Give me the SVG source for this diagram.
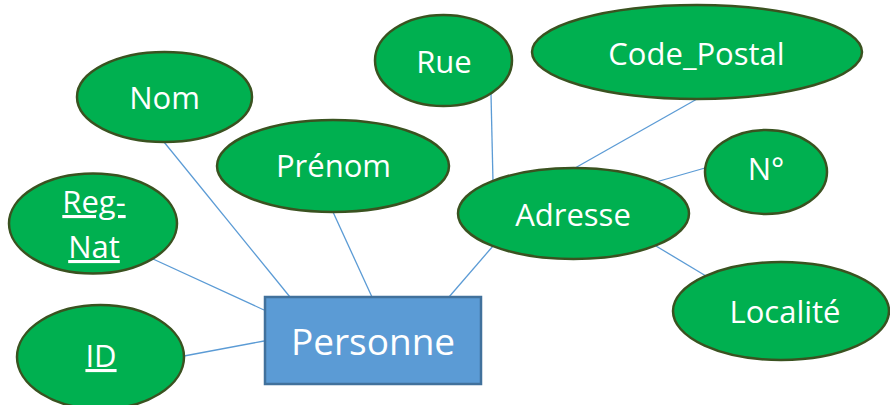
<svg xmlns="http://www.w3.org/2000/svg" width="890" height="405" viewBox="0 0 890 405">
<style>
.attr ellipse{fill:#00B050;stroke:#3A5220;stroke-width:2.5}
text{font-family:"Open Sans","DejaVu Sans",sans-serif;fill:#FFFFFF;text-anchor:middle}
.lbl{font-size:31px}
.key{text-decoration:underline}
.conn line{stroke:#5B9BD5;stroke-width:1.3}
</style>
<rect width="890" height="405" fill="#FFFFFF"/>
<g id="connectors" class="conn">
<line x1="164" y1="142" x2="290" y2="297"/>
<line x1="333" y1="212" x2="372" y2="297"/>
<line x1="153" y1="259" x2="264" y2="310"/>
<line x1="184" y1="356" x2="264" y2="341"/>
<line x1="493" y1="246" x2="449" y2="297"/>
<line x1="491" y1="94" x2="493" y2="182"/>
<line x1="697" y1="99" x2="575" y2="168"/>
<line x1="656" y1="182" x2="705" y2="168"/>
<line x1="656" y1="246" x2="706" y2="276"/>
</g>
<g id="personne">
<rect x="265" y="297" width="216" height="87" fill="#5B9BD5" stroke="#41719C" stroke-width="2.5"/>
<text x="373" y="355" font-size="37">Personne</text>
</g>
<g id="nom" class="attr">
<ellipse cx="164.5" cy="97" rx="87.5" ry="45"/>
<text class="lbl" x="164.5" y="109">Nom</text>
</g>
<g id="prenom" class="attr">
<ellipse cx="333" cy="166" rx="116" ry="46"/>
<text class="lbl" x="333.5" y="177">Prénom</text>
</g>
<g id="regnat" class="attr">
<ellipse cx="93" cy="223.5" rx="84" ry="50"/>
<text class="lbl key" x="94" y="213">Reg-</text>
<text class="lbl key" x="94" y="258">Nat</text>
</g>
<g id="id" class="attr">
<ellipse cx="100.5" cy="357" rx="83.5" ry="52"/>
<text class="lbl key" x="101" y="367">ID</text>
</g>
<g id="rue" class="attr">
<ellipse cx="443.5" cy="60.5" rx="68.5" ry="45.5"/>
<text class="lbl" x="444" y="73">Rue</text>
</g>
<g id="code_postal" class="attr">
<ellipse cx="697" cy="52" rx="165" ry="47"/>
<text class="lbl" x="696.5" y="65">Code_Postal</text>
</g>
<g id="adresse" class="attr">
<ellipse cx="573.5" cy="213.5" rx="115.5" ry="45.5"/>
<text class="lbl" x="573" y="226">Adresse</text>
</g>
<g id="numero" class="attr">
<ellipse cx="766" cy="172" rx="61" ry="42"/>
<text class="lbl" x="766" y="180">N°</text>
</g>
<g id="localite" class="attr">
<ellipse cx="781" cy="311" rx="108" ry="49"/>
<text class="lbl" x="785" y="323">Localité</text>
</g>
</svg>
